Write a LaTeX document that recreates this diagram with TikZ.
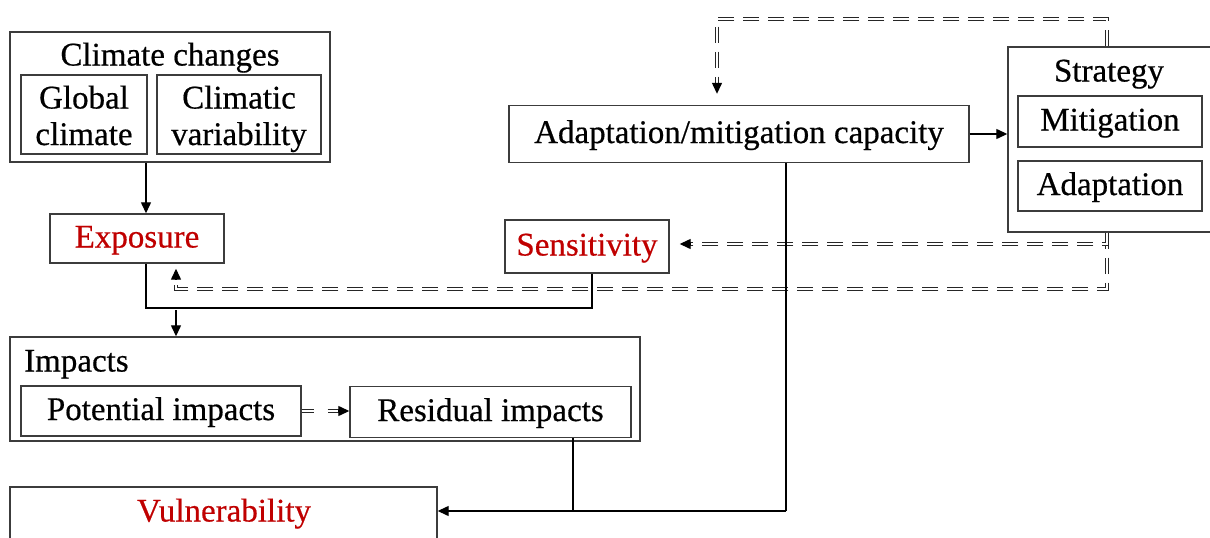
\documentclass[tikz,border=0pt]{standalone}
\usepackage{fontspec}
\setmainfont{Liberation Serif}[FakeBold=0.5]
\usetikzlibrary{arrows.meta,calc}
\definecolor{boxgray}{RGB}{60,60,60}
\definecolor{txtred}{RGB}{192,0,0}
\begin{document}
\begin{tikzpicture}[x=1pt,y=-1pt,
 every node/.style={font=\fontsize{33}{37}\selectfont, inner sep=0pt},
 box/.style={draw=boxgray, line width=1.4pt, text height=22pt, text depth=4pt},
 txt/.style={anchor=base},
 redtxt/.style={text=txtred},
 link/.style={draw=black, line width=2pt},
 tip/.style={-{Triangle[length=11pt,width=10pt]}},
 arr/.style={draw=black, line width=1.3pt, tip},
 dbl/.style={draw=black!85, line width=1.1pt, double distance=1.6pt, dash pattern=on 16pt off 9pt}
]
\clip (0,0) rectangle (1210,538);
\fill[white] (0,0) rectangle (1210,538);

% Climate changes
\node[box, minimum width=320pt, minimum height=130pt] (clim) at (170,97) {};
\node[txt] (climtitle) at (170,65.5) {Climate changes};
\node[box, minimum width=126pt, minimum height=79pt] (glob) at (84,114.5) {};
\node[txt] (globA) at (84,108.5) {Global};
\node[txt] (globB) at (84,145) {climate};
\node[box, minimum width=164pt, minimum height=79pt] (varb) at (239,114.5) {};
\node[txt] (varbA) at (239,108.5) {Climatic};
\node[txt] (varbB) at (239,145) {variability};

% Exposure, Sensitivity
\node[box, redtxt, minimum width=174pt, minimum height=49pt] (expo) at (137,238.5) {Exposure};
\node[box, redtxt, minimum width=164pt, minimum height=53pt] (sens) at (587,246.5) {Sensitivity};

% Adaptation capacity
\node[box, minimum width=460pt, minimum height=57pt] (adcap) at (739,134) {Adaptation/mitigation capacity};

% Strategy
\node[box, minimum width=208pt, minimum height=185pt] (strat) at (1112,139.5) {};
\node[txt] (strattitle) at (1109,81.5) {Strategy};
\node[box, minimum width=184pt, minimum height=51pt] (miti) at (1110,121.5) {Mitigation};
\node[box, minimum width=184pt, minimum height=50pt] (adap) at (1110,186) {Adaptation};

% Impacts
\node[box, minimum width=630pt, minimum height=104pt] (imp) at (325,389) {};
\node[txt, anchor=base west] (imptitle) at (24,371.5) {Impacts};
\node[box, minimum width=280pt, minimum height=50pt] (pot) at (161,411) {Potential impacts};
\node[box, minimum width=281pt, minimum height=51pt] (res) at (490.5,412) {Residual impacts};

% Vulnerability
\node[box, minimum width=427pt, minimum height=100pt] (vul) at (223.5,537) {};
\node[txt, redtxt] (vultxt) at (224,521.5) {Vulnerability};

% helper coordinates
\coordinate (xA) at (146,0);
\coordinate (xB) at (176,0);
\coordinate (xS) at (592,0);
\coordinate (xT) at (1107,0);
\coordinate (xC) at (717,0);
\coordinate (xR) at (573,0);
\coordinate (xM) at (786,0);
\coordinate (yJ) at (0,308);
\coordinate (yL) at (0,289);
\coordinate (yU) at (0,244);
\coordinate (yTop) at (0,19);
\coordinate (yV) at (0,511);
\coordinate (yI) at (0,310);

% connectors
\draw[arr] (clim.south -| xA) -- (expo.north -| xA);
\draw[link] (expo.south -| xA) -- (xA |- yJ) -- (xS |- yJ) -- (sens.south -| xS);
\draw[arr] (xB |- yI) -- (imp.north -| xB);

% double dashed feedback lines (tips drawn solid)
\draw[dbl, shorten >=15pt] (strat.south -| xT) -- (xT |- yL) -- (xB |- yL) -- (expo.south -| xB);
\draw[arr, shorten >=5pt] ($(expo.south -| xB)+(0,16)$) -- (expo.south -| xB);

\draw[dbl, shorten >=20pt] (strat.south -| xT) -- (xT |- yU) -- (sens.east |- yU);
\draw[arr, shorten >=10pt] ($(sens.east |- yU)+(21,0)$) -- (sens.east |- yU);

\draw[dbl, shorten >=21pt] (strat.north -| xT) -- (xT |- yTop) -- (xC |- yTop) -- (adcap.north -| xC);
\draw[arr, shorten >=11pt] ($(adcap.north -| xC)+(0,-22)$) -- (adcap.north -| xC);

\draw[arr] (adcap.east) -- (adcap.east -| strat.west);

\draw[dbl, dash pattern=on 12pt off 14pt, shorten >=10pt] (pot.east) -- (res.west |- pot.east);
\draw[arr] ($(res.west |- pot.east)+(-11,0)$) -- (res.west |- pot.east);

\draw[link] (res.south -| xR) -- (xR |- yV);
\draw[link] (adcap.south -| xM) -- (xM |- yV);
\draw[arr] (xM |- yV) -- (vul.east |- yV);
\end{tikzpicture}
\end{document}
